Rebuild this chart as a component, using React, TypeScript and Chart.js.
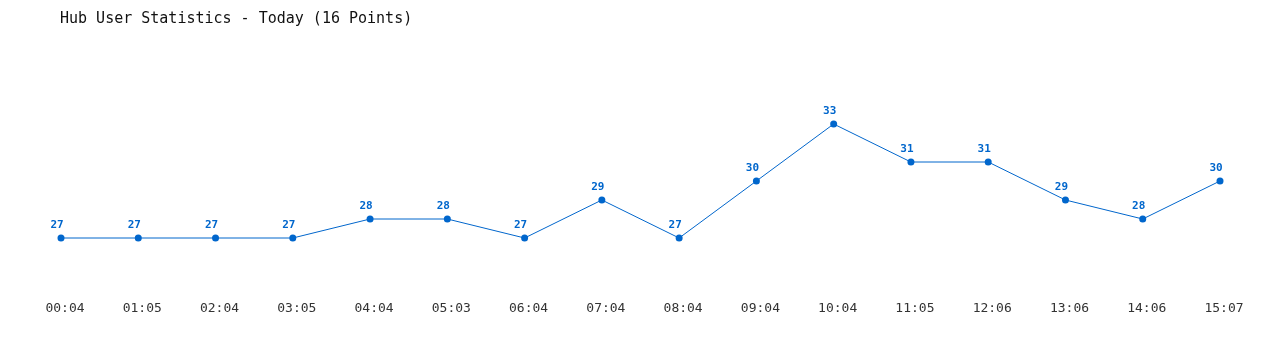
import React, { useEffect, useRef } from "react";
import { Chart, registerables } from "chart.js";

Chart.register(...registerables);

const title = "Hub User Statistics - Today (16 Points)";
const categories = ["00:04", "01:05", "02:04", "03:05", "04:04", "05:03", "06:04", "07:04", "08:04", "09:04", "10:04", "11:05", "12:06", "13:06", "14:06", "15:07"];
const users = [27, 27, 27, 27, 28, 28, 27, 29, 27, 30, 33, 31, 31, 29, 28, 30];

const BLUE = "#0066cc";
const MONO = "'DejaVu Sans Mono', 'Liberation Mono', monospace";

export default function App() {
  const ref = useRef<HTMLCanvasElement | null>(null);

  useEffect(() => {
    document.body.style.margin = "0";
    const canvas = ref.current;
    if (!canvas) return;

    const overlay = {
      id: "overlay",
      afterDatasetsDraw(chart: any) {
        const ctx = chart.ctx;
        ctx.save();
        // title
        ctx.fillStyle = "#111";
        ctx.font = `15px ${MONO}`;
        ctx.textAlign = "left";
        ctx.textBaseline = "middle";
        ctx.fillText(title, 60, 19);
        // value labels
        const meta = chart.getDatasetMeta(0);
        ctx.fillStyle = BLUE;
        ctx.font = `bold 11px ${MONO}`;
        ctx.textAlign = "center";
        meta.data.forEach((pt: any, i: number) => {
          ctx.fillText(String(users[i]), pt.x - 4, pt.y - 13);
        });
        // x labels
        const xs = chart.scales.x;
        ctx.fillStyle = "#333";
        ctx.font = `13px ${MONO}`;
        categories.forEach((c, i) => {
          ctx.fillText(c, xs.getPixelForValue(i) + 4, 308.5);
        });
        ctx.restore();
      },
    };

    const chart = new Chart(canvas, {
      type: "line",
      data: {
        labels: categories,
        datasets: [
          {
            data: users,
            borderColor: BLUE,
            backgroundColor: BLUE,
            borderWidth: 1,
            pointRadius: 3.5,
            pointBackgroundColor: BLUE,
            pointBorderWidth: 0,
            tension: 0,
          },
        ],
      },
      options: {
        responsive: false,
        animation: false,
        layout: { padding: { left: 61, right: 60, top: 48, bottom: 36 } },
        plugins: { legend: { display: false }, title: { display: false }, tooltip: { enabled: false } },
        scales: {
          x: { display: false, offset: false },
          y: { display: false, min: 23, max: 37 },
        },
      },
      plugins: [overlay],
    });
    return () => chart.destroy();
  }, []);

  return (
    <div style={{ width: 1280, height: 350, background: "#fff" }}>
      <canvas ref={ref} width={1280} height={350} style={{ display: "block" }} />
    </div>
  );
}
